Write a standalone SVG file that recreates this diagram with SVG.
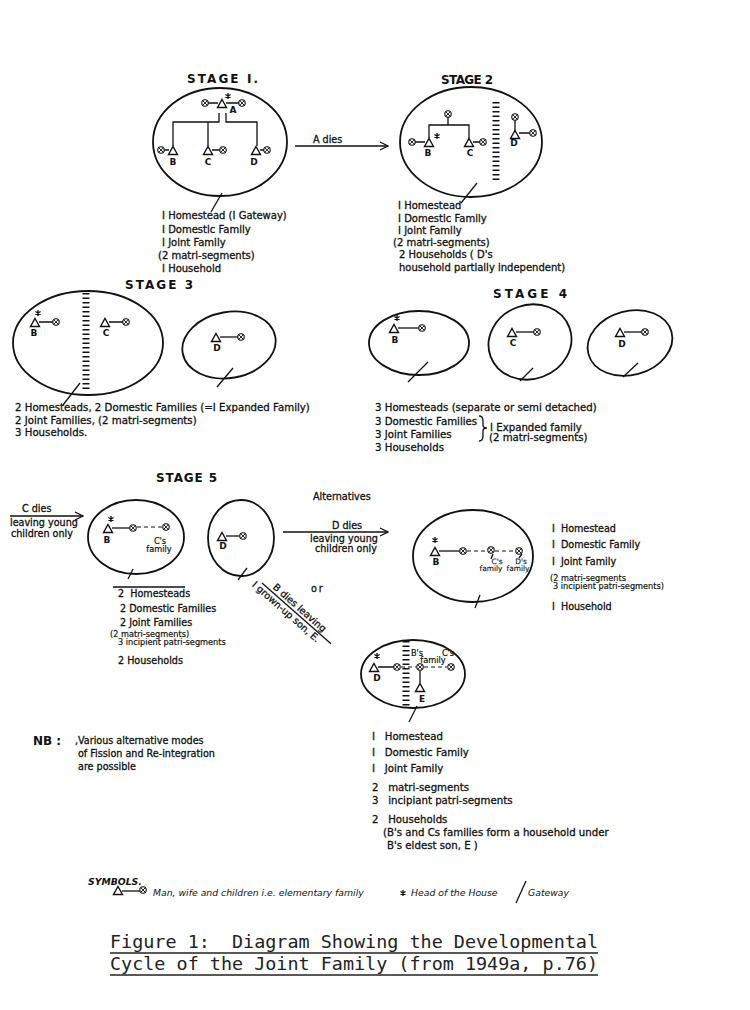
<svg xmlns="http://www.w3.org/2000/svg" xmlns:xlink="http://www.w3.org/1999/xlink" width="750" height="1010" viewBox="0 0 750 1010">
<style>
text{font-family:"DejaVu Sans",sans-serif;fill:#111}
.t{font-size:9.6px;stroke:#111;stroke-width:0.3}
.t1{font-size:10px}
.t2{font-size:10.2px}
.sm{font-size:8.2px;stroke:#111;stroke-width:0.2}
.xs{font-size:7.4px;stroke:#111;stroke-width:0.15;text-anchor:middle}
.h{font-weight:bold;font-size:12px}
.lbl{font-size:9px;font-weight:bold;text-anchor:middle}
.ln{stroke:#111;stroke-width:1.3;fill:none}
.dl{stroke:#111;stroke-width:1.2;fill:none;stroke-dasharray:4 3}
.ring{stroke:#111;stroke-width:1.8;fill:none}
.col{stroke:#111;stroke-width:7;fill:none;stroke-dasharray:1.4 3.1}
.it{font-style:italic;font-size:9.3px}
.cap{font-family:"DejaVu Sans Mono","Liberation Mono",monospace;font-size:18px;fill:#222}
</style>
<defs>
<g id="tri"><path d="M0,-4.5 L4.5,3.5 L-4.5,3.5 Z" fill="#fff" stroke="#111" stroke-width="1.4"/></g>
<g id="ox"><circle r="3.2" fill="#fff" stroke="#111" stroke-width="1.1"/><path d="M-2.1,-2.1 L2.1,2.1 M-2.1,2.1 L2.1,-2.1" stroke="#111" stroke-width="0.9"/></g>
<g id="star"><path d="M0,-3 V3 M-2.6,-1.5 L2.6,1.5 M-2.6,1.5 L2.6,-1.5" stroke="#111" stroke-width="1.3"/></g>
<marker id="arr" markerWidth="10" markerHeight="10" refX="9" refY="5" orient="auto" markerUnits="userSpaceOnUse"><path d="M1,1 L9,5 L1,9" fill="none" stroke="#111" stroke-width="1.3"/></marker>
</defs>
<rect width="750" height="1010" fill="#fff"/>

<g id="stage1">
<text class="h" x="187" y="83" textLength="71" lengthAdjust="spacing">STAGE I.</text>
<ellipse class="ring" cx="220" cy="142" rx="67" ry="54"/>
<path class="ln" d="M208,103 H218 M226,103 H239"/>
<use xlink:href="#ox" x="205" y="103"/><use xlink:href="#tri" x="222" y="104"/><use xlink:href="#ox" x="242" y="103"/>
<use xlink:href="#star" x="228" y="96"/>
<text class="lbl" x="233" y="113">A</text>
<path class="ln" d="M219,113 V122 H173 V146 M226,113 V122 H257 V146 M208,122 V146"/>
<path class="ln" d="M164,150 H169 M212,150 H220 M260,150 H264"/>
<use xlink:href="#ox" x="161" y="150"/><use xlink:href="#tri" x="173" y="151"/>
<use xlink:href="#tri" x="208" y="151"/><use xlink:href="#ox" x="223" y="150"/>
<use xlink:href="#tri" x="256" y="151"/><use xlink:href="#ox" x="267" y="150"/>
<text class="lbl" x="173" y="165">B</text><text class="lbl" x="208" y="165">C</text><text class="lbl" x="254" y="165">D</text>
<path class="ln" d="M222,193 L211,212"/>
<text class="t t1" x="162" y="219">I Homestead (I Gateway)</text>
<text class="t t1" x="162" y="233">I Domestic Family</text>
<text class="t t1" x="162" y="246">I Joint Family</text>
<text class="t t1" x="158" y="259">(2 matri-segments)</text>
<text class="t t1" x="162" y="272">I Household</text>
</g>

<g id="stage2">
<text class="h" x="441" y="84" textLength="52" lengthAdjust="spacing">STAGE 2</text>
<ellipse class="ring" cx="471" cy="142" rx="71" ry="55"/>
<use xlink:href="#ox" x="448" y="114"/>
<path class="ln" d="M448,117 V125 M429,138 V125 H469 V138"/>
<path class="ln" d="M415,142 H425 M473,142 H480"/>
<use xlink:href="#ox" x="412" y="142"/><use xlink:href="#tri" x="429" y="143"/><use xlink:href="#star" x="437" y="136"/>
<use xlink:href="#tri" x="469" y="143"/><use xlink:href="#ox" x="483" y="142"/>
<text class="lbl" x="428" y="156">B</text><text class="lbl" x="470" y="156">C</text>
<path class="col" d="M496,102 V180"/>
<use xlink:href="#ox" x="515" y="117"/>
<path class="ln" d="M515,120 V131 M519,133 H530"/>
<use xlink:href="#tri" x="515" y="135"/><use xlink:href="#ox" x="533" y="133"/>
<text class="lbl" x="514" y="146">D</text>
<path class="ln" d="M477,183 L461,203"/>
<text class="t t1" x="398" y="209">I Homestead</text>
<text class="t t1" x="398" y="222">I Domestic Family</text>
<text class="t t1" x="398" y="234">I Joint Family</text>
<text class="t t1" x="393" y="246">(2 matri-segments)</text>
<text class="t t1" x="399" y="258">2 Households ( D's</text>
<text class="t t1" x="399" y="271">household partially independent)</text>
</g>

<g id="stage3">
<text class="h" x="125" y="289" textLength="68" lengthAdjust="spacing">STAGE 3</text>
<ellipse class="ring" cx="88" cy="343" rx="75" ry="52"/>
<path class="col" d="M86,293 V390"/>
<use xlink:href="#star" x="38" y="313"/>
<path class="ln" d="M39,322 H53 M109,322 H123"/>
<use xlink:href="#tri" x="35" y="323"/><use xlink:href="#ox" x="56" y="322"/>
<use xlink:href="#tri" x="105" y="323"/><use xlink:href="#ox" x="126" y="322"/>
<text class="lbl" x="34" y="336">B</text><text class="lbl" x="106" y="336">C</text>
<path class="ln" d="M80,383 L63,405"/>
<ellipse class="ring" cx="229" cy="345" rx="47" ry="33" transform="rotate(-10 229 345)"/>
<path class="ln" d="M220,337 H238"/>
<use xlink:href="#tri" x="216" y="338"/><use xlink:href="#ox" x="241" y="337"/>
<text class="lbl" x="217" y="351">D</text>
<path class="ln" d="M233,368 L217,387"/>
<text class="t t2" x="15" y="411">2 Homesteads, 2 Domestic Families (=I Expanded Family)</text>
<text class="t t2" x="15" y="424">2 Joint Families, (2 matri-segments)</text>
<text class="t t2" x="15" y="436">3 Households.</text>
</g>

<g id="stage4">
<text class="h" x="493" y="298" textLength="74" lengthAdjust="spacing">STAGE 4</text>
<ellipse class="ring" cx="419" cy="343" rx="50" ry="32"/>
<use xlink:href="#star" x="397" y="318"/>
<path class="ln" d="M398,328 H419"/>
<use xlink:href="#tri" x="394" y="329"/><use xlink:href="#ox" x="422" y="328"/>
<text class="lbl" x="395" y="343">B</text>
<path class="ln" d="M428,362 L408,382"/>
<ellipse class="ring" cx="530" cy="342" rx="42" ry="37" transform="rotate(-20 530 342)"/>
<path class="ln" d="M516,332 H534"/>
<use xlink:href="#tri" x="512" y="333"/><use xlink:href="#ox" x="537" y="332"/>
<text class="lbl" x="513" y="346">C</text>
<path class="ln" d="M533,368 L520,381"/>
<ellipse class="ring" cx="630" cy="343" rx="43" ry="32" transform="rotate(-15 630 343)"/>
<path class="ln" d="M624,332 H642"/>
<use xlink:href="#tri" x="620" y="333"/><use xlink:href="#ox" x="645" y="332"/>
<text class="lbl" x="622" y="347">D</text>
<path class="ln" d="M638,363 L623,377"/>
<text class="t t2" x="375" y="411">3 Homesteads (separate or semi detached)</text>
<text class="t t2" x="375" y="425">3 Domestic Families</text>
<text class="t t2" x="375" y="438">3 Joint Families</text>
<text class="t t2" x="375" y="451">3 Households</text>
<path class="ln" d="M479,416 Q483,416 483,421 V425 Q483,428 487,428 Q483,428 483,431 V436 Q483,441 479,441" stroke-width="1"/>
<text class="t t2" x="490" y="431">I Expanded family</text>
<text class="t t2" x="489" y="441">(2 matri-segments)</text>
</g>

<g id="stage5">
<text class="h" x="156" y="482" textLength="61" lengthAdjust="spacing" font-size="11px">STAGE 5</text>
<text class="t" x="22" y="512">C dies</text>
<text class="t" x="10" y="526">leaving young</text>
<text class="t" x="11" y="537">children only</text>
<ellipse class="ring" cx="136" cy="537" rx="48" ry="37"/>
<use xlink:href="#star" x="111" y="519"/>
<path class="ln" d="M112,528 H130"/>
<path class="dl" d="M137,527 H163"/>
<use xlink:href="#tri" x="108" y="529"/><use xlink:href="#ox" x="133" y="528"/><use xlink:href="#ox" x="166" y="527"/>
<text class="lbl" x="107" y="543">B</text>
<text class="sm" x="160" y="544" text-anchor="middle">C's</text>
<text class="sm" x="159" y="552" text-anchor="middle">family</text>
<path class="ln" d="M133,569 L128,579"/>
<ellipse class="ring" cx="241" cy="538" rx="33" ry="38"/>
<path class="ln" d="M226,536 H240"/>
<use xlink:href="#tri" x="222" y="537"/><use xlink:href="#ox" x="243" y="536"/>
<text class="lbl" x="223" y="549">D</text>
<path class="ln" d="M247,568 L238,580"/>
<path class="ln" d="M113,587 H185" stroke-width="0.9"/>
<text class="t" x="118" y="597" xml:space="preserve">2  Homesteads</text>
<text class="t" x="120" y="612">2 Domestic Families</text>
<text class="t" x="120" y="626">2 Joint Families</text>
<text class="sm" x="110" y="637">(2 matri-segments)</text>
<text class="sm" x="118" y="645">3 incipient patri-segments</text>
<text class="t" x="118" y="664">2 Households</text>
</g>

<g id="alternatives">
<text class="t" x="313" y="500">Alternatives</text>
<text class="t" x="332" y="529">D dies</text>
<text class="t" x="310" y="542">leaving young</text>
<text class="t" x="315" y="552">children only</text>
<text class="t" x="311" y="592" letter-spacing="2">or</text>
</g>

<g id="alt-d-dies">
<ellipse class="ring" cx="473" cy="556" rx="60" ry="46"/>
<use xlink:href="#star" x="435" y="540"/>
<path class="ln" d="M439,551 H460"/>
<path class="dl" d="M467,551 H488 M495,551 H516"/>
<use xlink:href="#tri" x="435" y="552"/><use xlink:href="#ox" x="463" y="551"/><use xlink:href="#ox" x="491" y="550"/><use xlink:href="#ox" x="519" y="551"/>
<path class="ln" d="M493,554 L491,559 M522,554 L519,558" stroke-width="0.9"/>
<text class="lbl" x="436" y="565">B</text>
<text class="xs" x="497" y="564">C's</text>
<text class="xs" x="491" y="571">family</text>
<text class="xs" x="521" y="564">D's</text>
<text class="xs" x="518" y="571">family</text>
<path class="ln" d="M480,595 L475,608"/>
<text class="t" x="552" y="532" xml:space="preserve">I  Homestead</text>
<text class="t" x="552" y="548" xml:space="preserve">I  Domestic Family</text>
<text class="t" x="552" y="565" xml:space="preserve">I  Joint Family</text>
<text class="sm" x="550" y="581">(2 matri-segments</text>
<text class="sm" x="553" y="589">3 incipient patri-segments)</text>
<text class="t" x="552" y="610" xml:space="preserve">I  Household</text>
</g>

<g id="alt-b-dies">
<ellipse class="ring" cx="413" cy="674" rx="52" ry="34"/>
<path class="col" d="M406,641 V707" stroke-width="6"/>
<use xlink:href="#star" x="377" y="656"/>
<path class="ln" d="M378,667 H394 M420,670 V683"/>
<path class="dl" d="M401,667 H416 M424,667 H447"/>
<use xlink:href="#tri" x="374" y="668"/><use xlink:href="#ox" x="397" y="667"/><use xlink:href="#ox" x="420" y="667"/><use xlink:href="#ox" x="451" y="667"/>
<use xlink:href="#tri" x="420" y="688"/>
<text class="lbl" x="377" y="681">D</text>
<text class="lbl" x="422" y="702">E</text>
<text class="sm" x="417" y="656" text-anchor="middle">B's</text>
<text class="sm" x="448" y="656" text-anchor="middle">C's</text>
<text class="sm" x="433" y="663" text-anchor="middle">family</text>
<path class="ln" d="M417,706 L409,722"/>
<text class="t t2" x="372" y="740" xml:space="preserve">I   Homestead</text>
<text class="t t2" x="372" y="756" xml:space="preserve">I   Domestic Family</text>
<text class="t t2" x="372" y="772" xml:space="preserve">I   Joint Family</text>
<text class="t t2" x="372" y="791" xml:space="preserve">2   matri-segments</text>
<text class="t t2" x="372" y="804" xml:space="preserve">3   incipiant patri-segments</text>
<text class="t t2" x="372" y="823" xml:space="preserve">2   Households</text>
<text class="t t2" x="383" y="836">(B's and Cs families form a household under</text>
<text class="t t2" x="387" y="849">B's eldest son, E )</text>
</g>

<g id="connectors">
<path class="ln" d="M295,146 H388" marker-end="url(#arr)"/>
<text class="t" x="313" y="143">A dies</text>
<path class="ln" d="M10,516 H83" marker-end="url(#arr)"/>
<path class="ln" d="M283,532 H388" marker-end="url(#arr)"/>
<g transform="translate(262,583) rotate(41.4)">
<path class="ln" d="M0,0 H92"/>
<text class="t" x="11" y="-3">B dies leaving</text>
<text class="t" x="-6" y="9">I grown-up son, E.</text>
</g>
</g>

<g id="note">
<text x="33" y="745" font-weight="bold" font-size="12px">NB :</text>
<text class="t" x="75" y="744">,Various alternative modes</text>
<text class="t" x="78" y="757">of Fission and Re-integration</text>
<text class="t" x="78" y="770">are possible</text>
</g>

<g id="symbols">
<text class="it" x="88" y="885" font-weight="bold" font-size="8px">SYMBOLS.</text>
<use xlink:href="#tri" x="118" y="891"/>
<path class="ln" d="M122,891 H140"/>
<use xlink:href="#ox" x="143" y="890"/>
<text class="it" x="153" y="896">Man, wife and children i.e. elementary family</text>
<use xlink:href="#star" x="403" y="893"/>
<text class="it" x="411" y="896">Head of the House</text>
<path class="ln" d="M526,881 L516,903"/>
<text class="it" x="528" y="896">Gateway</text>
</g>

<g id="caption">
<text class="cap" x="110" y="948" textLength="488" lengthAdjust="spacingAndGlyphs" xml:space="preserve">Figure 1:  Diagram Showing the Developmental</text>
<path d="M110,953 H598" stroke="#222" stroke-width="1.5"/>
<text class="cap" x="110" y="970" textLength="488" lengthAdjust="spacingAndGlyphs">Cycle of the Joint Family (from 1949a, p.76)</text>
<path d="M110,975 H598" stroke="#222" stroke-width="1.5"/>
</g>
</svg>
